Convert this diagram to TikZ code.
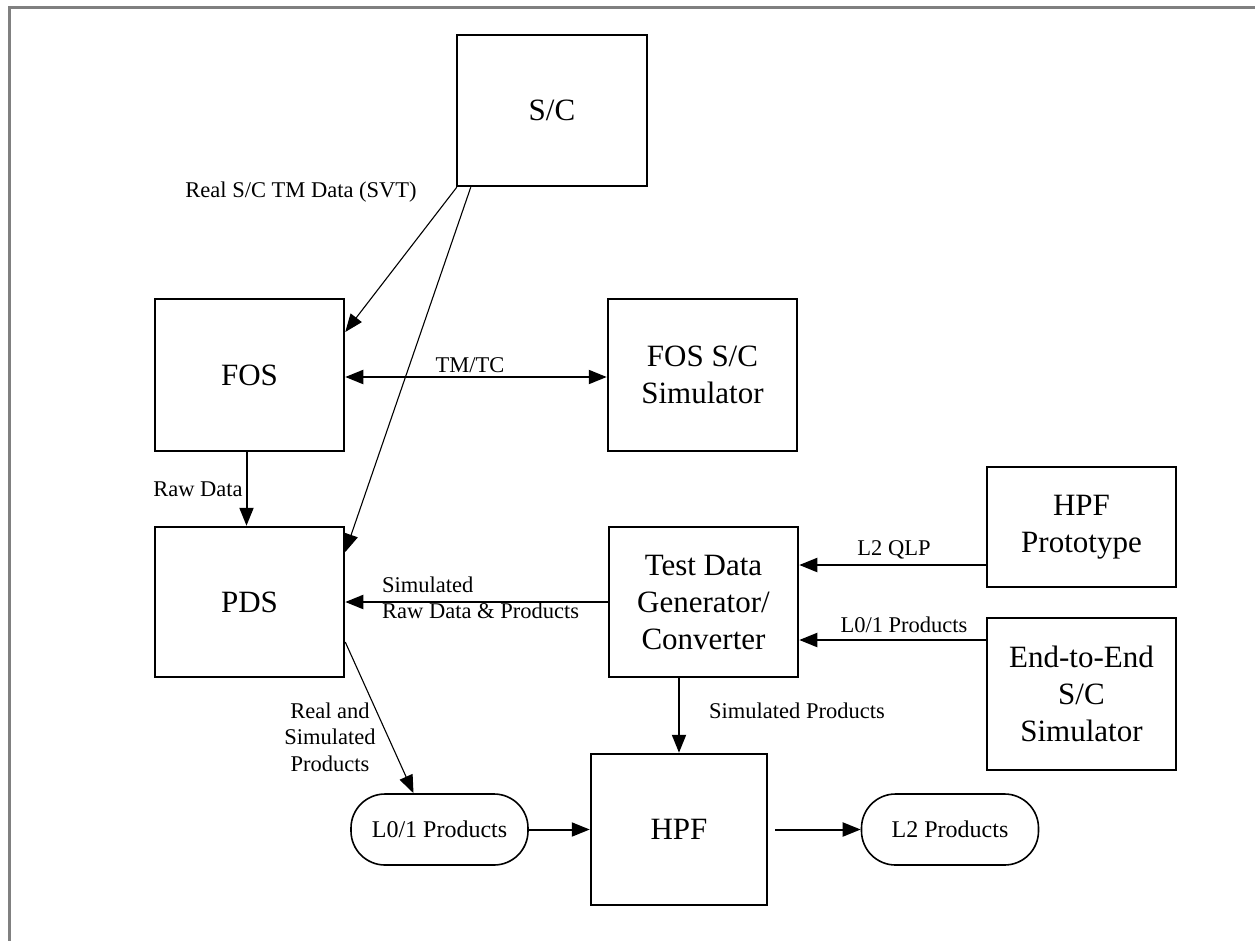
\documentclass[tikz,border=0pt]{standalone}
\usepackage{fontspec}
\setmainfont{Liberation Serif}
\usetikzlibrary{arrows.meta,calc}
\begin{document}
\begin{tikzpicture}[x=1pt,y=-1pt,
  blk/.style={draw,line width=2.5pt,inner sep=0pt,align=center,
    font=\fontsize{31}{37}\selectfont},
  term/.style={draw,line width=1.6pt,rounded corners=34pt,inner sep=0pt,
    minimum width=177pt,minimum height=71pt,font=\fontsize{24}{28}\selectfont},
  lbl/.style={inner sep=0pt,font=\fontsize{22.5}{26.5}\selectfont},
  arr/.style={line width=2pt,-{Triangle[length=18pt,width=14pt]}},
  darr/.style={line width=2pt,{Triangle[length=18pt,width=14pt]}-{Triangle[length=18pt,width=14pt]}},
  thin/.style={line width=1.1pt,-{Triangle[length=18pt,width=14pt]}}]
\useasboundingbox (0,0) rectangle (1255,940);
\draw[line width=3pt,color={rgb,255:red,128;green,128;blue,128}] (9.5,941) -- (9.5,7.5) -- (1256,7.5);

\node[blk,minimum width=190pt,minimum height=151pt] (sc) at (552,110.5) {S/C};
\node[blk,minimum width=189pt,minimum height=152pt] (fos) at (249.5,375) {FOS};
\node[blk,minimum width=189pt,minimum height=152pt] (fsim) at (702.5,375) {FOS S/C\\Simulator};
\node[blk,minimum width=189pt,minimum height=150pt] (pds) at (249.5,602) {PDS};
\node[blk,minimum width=189pt,minimum height=150pt] (tdg) at (703.5,602) {Test Data\\Generator/\\Converter};
\node[blk,minimum width=189pt,minimum height=120pt] (hpfp) at (1081.5,527) {HPF\\Prototype};
\node[blk,minimum width=189pt,minimum height=152pt] (e2e) at (1081.5,694) {End-to-End\\S/C\\Simulator};
\node[blk,minimum width=176pt,minimum height=151pt] (hpf) at (679,829.5) {HPF};
\node[term] (l01) at (439.5,829.5) {L0/1 Products};
\node[term] (l2) at (950,829.5) {L2 Products};

\draw[thin] ([xshift=1pt]sc.south west) -- ([yshift=43pt]fos.east);
\draw[thin] ([xshift=15pt]sc.south west) -- ([yshift=50pt]pds.east);
\draw[darr] ([yshift=-2pt]fos.east) -- ([yshift=-2pt]fsim.west);
\draw[arr] ([xshift=-3pt]fos.south) -- ([xshift=-3pt]pds.north);
\draw[arr] (tdg.west) -- (pds.east);
\draw[arr] ([yshift=-38pt]hpfp.west) -- ([yshift=37pt]tdg.east);
\draw[arr] ([yshift=54pt]e2e.west) -- ([yshift=-38pt]tdg.east);
\draw[arr] ([xshift=-24.5pt]tdg.south) -- (hpf.north);
\draw[thin] ([yshift=-40pt]pds.east) -- ([xshift=-26pt]l01.north);
\draw[arr] (l01.east) -- (hpf.west);
\draw[arr] ([xshift=7pt]hpf.east) -- (l2.west);

\node[lbl] (lsvt) at (301,192) {Real S/C TM Data (SVT)};
\node[lbl,anchor=south] (ltmtc) at (470,373) {TM/TC};
\node[lbl] (lraw) at (198,489) {Raw Data};
\node[lbl,anchor=west,align=left] (lsim) at (382,598) {Simulated\\Raw Data \& Products};
\node[lbl] (lqlp) at (894,550) {L2 QLP};
\node[lbl] (ll01) at (904,625) {L0/1 Products};
\node[lbl] (lsp) at (797,711) {Simulated Products};
\node[lbl,align=center] (lreal) at (330,737) {Real and\\Simulated\\Products};
\end{tikzpicture}
\end{document}
